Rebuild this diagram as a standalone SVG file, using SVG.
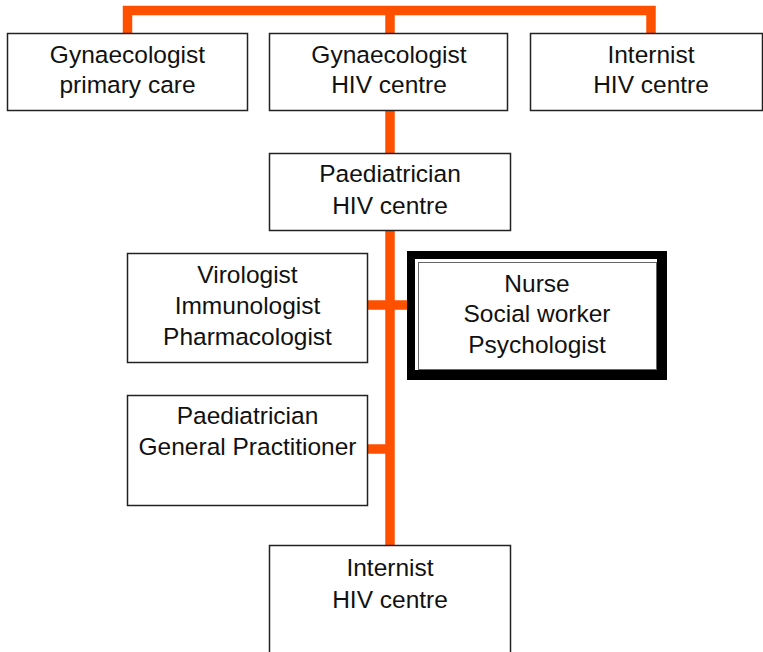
<svg xmlns="http://www.w3.org/2000/svg" width="763" height="652" viewBox="0 0 763 652">
<style>
.box{fill:#fff;stroke:#222;stroke-width:1.5}
.conn{fill:none;stroke:#FF5000;stroke-width:9.5;stroke-linecap:butt;stroke-linejoin:miter}
text{font-family:"Liberation Sans",Arial,sans-serif;font-size:24.5px;fill:#111;text-anchor:middle}
</style>
<rect width="763" height="652" fill="#fff"/>
<g id="connectors">
<path class="conn" d="M127.5,33 V10.5 H651 V33"/>
<path class="conn" d="M390,10.5 V33"/>
<path class="conn" d="M390,111 V153"/>
<path class="conn" d="M390,231 V545"/>
<path class="conn" d="M368,305 H407"/>
<path class="conn" d="M368,449 H390"/>
</g>
<g id="gyn-primary">
<rect class="box" x="7.5" y="33.5" width="240" height="77"/>
<text x="127.5" y="63">Gynaecologist</text>
<text x="127.5" y="93">primary care</text>
</g>
<g id="gyn-hiv">
<rect class="box" x="269.5" y="33.5" width="238" height="77"/>
<text x="389" y="63">Gynaecologist</text>
<text x="389" y="93">HIV centre</text>
</g>
<g id="internist-top">
<rect class="box" x="530.5" y="33.5" width="232" height="77"/>
<text x="651" y="63">Internist</text>
<text x="651" y="93">HIV centre</text>
</g>
<g id="paed-hiv">
<rect class="box" x="269.5" y="153.5" width="241" height="77"/>
<text x="390" y="182">Paediatrician</text>
<text x="390" y="214">HIV centre</text>
</g>
<g id="virologist">
<rect class="box" x="127.5" y="253.5" width="240" height="109"/>
<text x="247.5" y="283">Virologist</text>
<text x="247.5" y="314">Immunologist</text>
<text x="247.5" y="345">Pharmacologist</text>
</g>
<g id="nurse">
<rect x="407" y="251" width="260" height="129" fill="#000"/>
<rect x="415" y="259" width="242" height="111" fill="#fff"/>
<rect x="418.5" y="262.5" width="238" height="107" fill="none" stroke="#666" stroke-width="1"/>
<text x="537" y="292">Nurse</text>
<text x="537" y="322">Social worker</text>
<text x="537" y="353">Psychologist</text>
</g>
<g id="paed-gp">
<rect class="box" x="127.5" y="395.5" width="240" height="110"/>
<text x="247.5" y="424">Paediatrician</text>
<text x="247.5" y="455">General Practitioner</text>
</g>
<g id="internist-bottom">
<rect class="box" x="269.5" y="545.5" width="241" height="120"/>
<text x="390" y="576">Internist</text>
<text x="390" y="608">HIV centre</text>
</g>
</svg>
